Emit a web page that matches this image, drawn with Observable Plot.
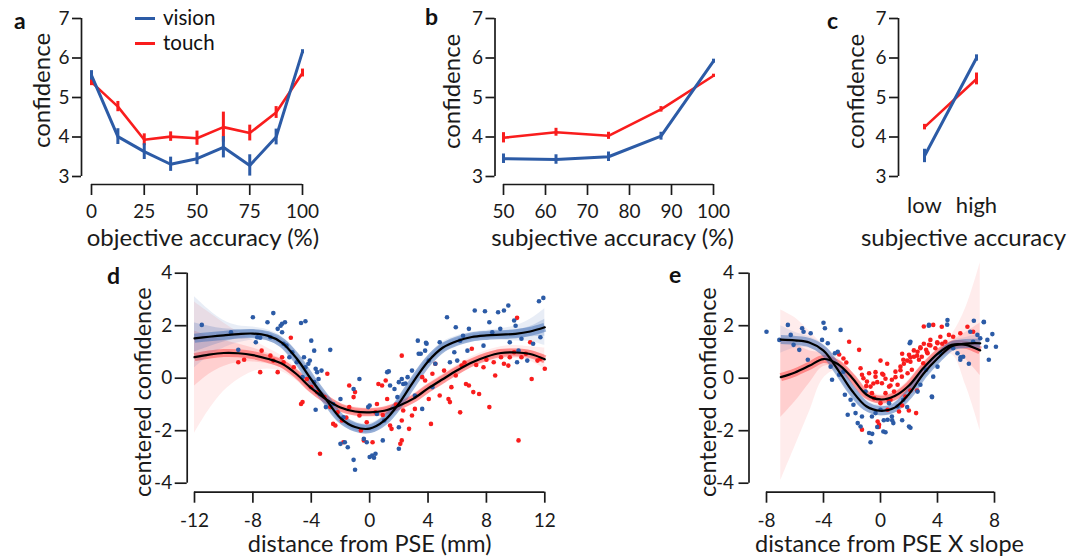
<!DOCTYPE html>
<html><head><meta charset="utf-8">
<script src="https://cdn.jsdelivr.net/npm/d3@7"></script>
<script src="https://cdn.jsdelivr.net/npm/@observablehq/plot@0.6"></script>
<style>
body{margin:0;background:#fff;}
#fig{position:relative;width:1075px;height:558px;font-family:Lato,sans-serif;overflow:hidden;background:#fff;color:#111}
.lab{position:absolute;font-weight:bold;font-size:23px;line-height:1}
.leg{position:absolute;font-size:20.5px;line-height:1}
.legline{position:absolute;height:3px;width:20px}
</style></head><body><div id="fig"></div>
<script>
// ---------- panel a ----------
const objAcc = [0, 12.5, 25, 37.5, 50, 62.5, 75, 87.5, 100];
const objAccTicks = [0, 25, 50, 75, 100];
const confTicks = [3, 4, 5, 6, 7];
const aVision = [5.56, 4.01, 3.63, 3.31, 3.45, 3.74, 3.28, 4.0, 6.16];
const aVisionErr = [0.12, 0.2, 0.2, 0.18, 0.15, 0.27, 0.27, 0.2, 0.05];
const aTouch = [5.39, 4.77, 3.93, 4.01, 3.97, 4.25, 4.1, 4.62, 5.62];
const aTouchErr = [0.09, 0.13, 0.15, 0.12, 0.18, 0.38, 0.2, 0.15, 0.1];
// ---------- panel b ----------
const subjAcc = [50, 62.5, 75, 87.5, 100];
const subjAccTicks = [50, 60, 70, 80, 90, 100];
const bVision = [3.45, 3.43, 3.5, 4.02, 5.92];
const bVisionErr = [0.12, 0.12, 0.12, 0.1, 0.05];
const bTouch = [3.98, 4.12, 4.03, 4.7, 5.55];
const bTouchErr = [0.13, 0.1, 0.09, 0.07, 0.04];
// ---------- panel c ----------
const subjLevels = ["low", "high"];
const cVision = [3.52, 6.0];
const cVisionErr = [0.17, 0.08];
const cTouch = [4.25, 5.47];
const cTouchErr = [0.07, 0.15];
// ---------- panel d ----------
const dXTicks = [-12, -8, -4, 0, 4, 8, 12];
const cconfTicks = [-4, -2, 0, 2, 4];
const dX =        [-12, -11, -10, -9, -8, -7, -6, -5, -4, -3, -2, -1, 0, 1, 2, 3, 4, 5, 6, 7, 8, 9, 10, 11, 12];
const dVisFit =   [1.52, 1.58, 1.63, 1.68, 1.70, 1.62, 1.35, 0.75, -0.05, -0.80, -1.52, -1.86, -1.92, -1.62, -0.97, -0.13, 0.64, 1.16, 1.42, 1.57, 1.63, 1.66, 1.69, 1.78, 1.94];
const dVisLo =    [0.4, 0.85, 1.15, 1.35, 1.45, 1.42, 1.15, 0.55, -0.25, -1.0, -1.72, -2.06, -2.12, -1.82, -1.2, -0.37, 0.45, 0.98, 1.25, 1.4, 1.45, 1.45, 1.42, 1.4, 1.25];
const dVisHi =    [3.1, 2.6, 2.2, 2.0, 1.95, 1.85, 1.58, 0.97, 0.16, -0.6, -1.3, -1.66, -1.72, -1.42, -0.78, 0.07, 0.85, 1.38, 1.62, 1.75, 1.82, 1.88, 2.0, 2.25, 2.65];
const dVisInLo =  [1.0, 1.2, 1.38, 1.5, 1.56, 1.5, 1.24, 0.64, -0.16, -0.92, -1.64, -1.99, -2.05, -1.75, -1.12, -0.28, 0.53, 1.06, 1.32, 1.46, 1.51, 1.53, 1.53, 1.58, 1.6];
const dVisInHi =  [2.1, 1.98, 1.88, 1.85, 1.84, 1.74, 1.47, 0.87, 0.07, -0.68, -1.4, -1.73, -1.8, -1.5, -0.84, -0.02, 0.77, 1.3, 1.53, 1.67, 1.74, 1.78, 1.84, 1.97, 2.25];
const dTouchFit = [0.80, 0.90, 0.96, 0.95, 0.88, 0.74, 0.55, 0.15, -0.38, -0.80, -1.12, -1.27, -1.30, -1.24, -1.05, -0.78, -0.39, -0.04, 0.30, 0.60, 0.82, 0.96, 0.98, 0.92, 0.72];
const dTouchLo =  [-2.1, -1.2, -0.5, -0.05, 0.25, 0.35, 0.25, -0.1, -0.6, -0.98, -1.3, -1.43, -1.46, -1.4, -1.22, -0.98, -0.6, -0.27, 0.08, 0.4, 0.6, 0.72, 0.75, 0.65, 0.35];
const dTouchHi =  [2.9, 2.5, 2.1, 1.75, 1.45, 1.15, 0.85, 0.4, -0.18, -0.62, -0.94, -1.1, -1.14, -1.08, -0.88, -0.6, -0.2, 0.15, 0.5, 0.82, 1.05, 1.2, 1.25, 1.2, 1.15];
const dTouchInLo =[-0.3, 0.15, 0.45, 0.6, 0.62, 0.55, 0.38, 0.0, -0.5, -0.9, -1.22, -1.37, -1.4, -1.34, -1.15, -0.88, -0.5, -0.15, 0.18, 0.48, 0.7, 0.83, 0.86, 0.8, 0.55];
const dTouchInHi =[1.8, 1.6, 1.45, 1.3, 1.15, 0.95, 0.72, 0.3, -0.26, -0.7, -1.02, -1.17, -1.2, -1.14, -0.95, -0.68, -0.28, 0.07, 0.42, 0.72, 0.95, 1.1, 1.12, 1.06, 0.9];
const dVisPts = [[-11.5,2.03],[-9.5,1.75],[-9.0,1.08],[-8.0,2.32],[-7.8,1.37],[-7.7,1.56],[-7.5,1.54],[-7.0,2.13],[-6.6,2.48],[-6.8,1.56],[-6.3,1.88],[-6.1,2.0],[-6.0,2.07],[-5.8,2.13],[-6.0,1.75],[-5.9,1.31],[-5.7,1.24],[-5.5,0.8],[-5.3,0.99],[-4.7,2.1],[-4.4,2.17],[-5.0,0.61],[-4.6,0.04],[-4.5,0.8],[-4.4,0.42],[-4.2,0.55],[-4.1,0.67],[-4.0,1.43],[-3.8,1.05],[-3.7,0.36],[-3.6,0.23],[-3.8,-0.15],[-3.5,-0.03],[-3.3,0.29],[-2.7,1.08],[-3.4,-0.6],[-3.7,-1.2],[-3.0,-1.1],[-2.5,-0.98],[-2.0,-0.79],[-1.8,-1.49],[-2.0,-2.5],[-1.7,-2.44],[-1.5,-2.63],[-1.1,-3.11],[-1.0,-3.49],[-1.1,-0.41],[-0.7,-0.03],[-0.4,-2.31],[-0.2,-2.44],[0.0,-3.0],[0.3,-3.03],[0.4,-2.88],[-0.1,-1.1],[0.0,-1.04],[0.5,-1.36],[1.0,-1.61],[0.9,-2.37],[1.2,0.23],[1.4,-0.28],[1.7,-0.41],[1.9,-0.72],[2.0,-2.69],[2.0,-1.87],[2.2,-0.03],[2.3,-0.22],[2.6,0.04],[2.9,0.29],[3.1,-0.66],[3.3,1.43],[3.5,0.93],[3.6,-1.17],[3.8,1.05],[3.9,1.31],[4.05,0.67],[4.3,-0.34],[4.5,0.55],[4.8,1.37],[5.3,2.32],[5.5,0.61],[5.8,0.99],[5.9,1.94],[6.0,0.67],[6.2,1.43],[6.4,1.62],[6.7,1.05],[6.8,1.88],[7.2,2.58],[7.8,1.24],[7.9,2.55],[8.2,2.13],[8.4,1.75],[8.8,2.51],[9.2,2.58],[9.5,2.77],[8.95,1.88],[9.6,1.37],[9.9,2.2],[10.0,2.0],[10.1,0.61],[10.2,1.05],[10.4,1.5],[10.8,0.67],[11.2,1.31],[11.6,2.93],[11.9,3.06],[11.7,1.56],[1.31,0.26],[2.0,-0.15],[2.45,-0.2],[3.36,0.93],[3.86,1.35],[0.17,-2.95]];
const dTouchPts = [[-9.0,0.61],[-8.6,0.7],[-7.5,0.23],[-7.4,1.05],[-6.8,0.86],[-6.6,0.67],[-6.3,0.23],[-6.0,0.8],[-5.9,0.61],[-5.4,1.54],[-5.2,0.42],[-4.7,-0.98],[-4.6,-0.91],[-4.3,-0.03],[-4.0,-0.34],[-3.6,-0.53],[-3.4,-2.88],[-3.1,-0.72],[-2.9,0.17],[-2.7,-1.1],[-2.5,-1.74],[-2.35,-1.8],[-1.9,-1.61],[-1.8,-2.44],[-1.4,-0.28],[-1.4,-1.1],[-1.1,-0.72],[-1.0,-0.53],[-0.7,-1.42],[-0.6,-1.99],[-0.4,-2.37],[-0.2,-1.68],[0.2,-2.44],[0.4,-1.3],[0.5,-0.98],[0.6,-0.22],[0.85,-0.28],[1.1,-0.09],[1.2,-0.79],[1.4,-1.8],[1.5,-1.93],[2.1,-2.5],[2.2,-2.37],[2.2,-1.61],[2.2,0.86],[2.3,-1.23],[2.7,-1.93],[2.9,-1.42],[3.1,-1.17],[3.6,0.04],[3.8,-0.09],[4.05,-0.79],[4.2,-1.74],[4.3,0.17],[4.5,0.55],[4.8,-0.66],[5.1,0.29],[5.4,-0.79],[5.5,-0.91],[5.6,-0.34],[5.9,0.1],[6.2,-1.3],[6.3,0.48],[6.6,-0.22],[6.8,-0.28],[7.0,1.12],[7.1,-0.53],[7.5,-0.6],[7.8,0.42],[8.2,-1.1],[8.5,0.61],[8.6,0.1],[9.0,0.8],[9.2,0.55],[9.5,0.48],[9.6,0.8],[9.9,0.99],[10.1,2.3],[10.2,-2.37],[10.4,0.8],[10.7,0.93],[11.0,1.37],[11.1,-0.03],[11.5,0.67],[11.7,0.74],[12.0,0.36],[-2.2,-1.3],[-1.6,-1.5],[0.9,-1.4],[1.8,-1.0],[6.5,0.6],[7.3,0.5],[8.0,0.7]];
// ---------- panel e ----------
const eXTicks = [-8, -4, 0, 4, 8];
const eX =         [-7, -6, -5, -4, -3, -2, -1, 0, 1, 2, 3, 4, 5, 6, 7];
const eVisFit =    [1.47, 1.44, 1.36, 1.05, 0.33, -0.48, -1.07, -1.24, -1.12, -0.6, 0.16, 0.75, 1.22, 1.32, 1.33];
const eVisLo =     [0.95, 1.15, 1.15, 0.82, 0.1, -0.7, -1.28, -1.45, -1.33, -0.82, -0.07, 0.55, 1.02, 1.12, 1.05];
const eVisHi =     [2.0, 1.75, 1.58, 1.28, 0.55, -0.26, -0.86, -1.03, -0.91, -0.38, 0.38, 0.95, 1.42, 1.55, 1.7];
const eTouchFit =  [0.04, 0.22, 0.47, 0.73, 0.54, 0.02, -0.62, -0.81, -0.68, -0.28, 0.38, 0.93, 1.27, 1.27, 1.06];
const eTouchLo =   [-3.9, -2.6, -1.3, 0.0, 0.3, -0.2, -0.82, -1.0, -0.88, -0.5, 0.15, 0.75, 0.9, -0.3, -2.0];
const eTouchHi =   [2.6, 2.3, 1.8, 1.25, 0.8, 0.25, -0.42, -0.62, -0.48, -0.06, 0.6, 1.1, 1.65, 2.7, 4.4];
const eTouchInLo = [-1.5, -0.9, -0.2, 0.45, 0.4, -0.1, -0.75, -0.93, -0.8, -0.4, 0.25, 0.82, 1.1, 0.7, 0.1];
const eTouchInHi = [1.5, 1.3, 1.05, 0.95, 0.7, 0.15, -0.5, -0.7, -0.56, -0.15, 0.5, 1.03, 1.42, 1.75, 2.1];
const eVisPts = [[-8.0,1.77],[-7.1,1.46],[-6.5,2.03],[-6.3,1.65],[-6.1,1.27],[-5.7,1.08],[-5.5,1.9],[-5.4,1.77],[-4.9,1.71],[-5.1,0.7],[-4.1,1.46],[-4.0,2.11],[-3.9,1.9],[-3.7,1.33],[-3.5,0.44],[-3.4,-0.06],[-3.2,0.95],[-3.0,1.01],[-2.9,0.13],[-2.8,1.84],[-2.6,0.25],[-2.5,-0.63],[-2.3,-1.39],[-2.1,-0.82],[-1.9,-1.01],[-1.75,-1.33],[-1.6,-1.71],[-1.4,-1.84],[-1.3,-1.46],[-1.05,-0.51],[-0.8,-2.09],[-0.7,-2.44],[-0.6,-1.46],[-0.35,-1.33],[0.0,-1.2],[0.2,-2.03],[0.35,-2.06],[0.5,-1.58],[0.6,-0.95],[0.8,-1.46],[0.9,-1.71],[1.2,-1.08],[1.6,-0.82],[2.0,-1.84],[2.1,1.39],[2.6,-0.51],[2.8,-0.25],[3.2,0.32],[3.4,2.03],[3.6,-0.7],[3.7,0.06],[4.0,0.44],[4.2,0.95],[4.7,2.22],[5.1,1.14],[5.4,0.95],[5.6,0.7],[5.8,0.82],[6.3,1.77],[6.5,1.39],[6.8,1.65],[7.0,1.52],[7.25,2.15],[7.5,1.46],[7.6,0.7],[7.85,1.68],[8.1,1.2],[7.4,1.2],[2.05,1.33],[3.39,2.0],[4.68,2.04],[7.25,2.13],[3.62,-0.72],[2.1,-1.89],[1.87,-1.1],[1.52,-1.6],[0.82,-1.6],[0.23,-1.6],[-0.23,-1.86],[-0.58,-2.12],[5.62,0.8],[6.2,0.55],[6.55,2.19]];
const eTouchPts = [[-2.2,1.39],[-1.5,1.08],[-1.4,0.38],[-1.3,0.13],[-1.2,0.0],[-0.95,-0.13],[-0.8,0.19],[-0.7,-0.32],[-0.6,-0.57],[-0.45,-0.76],[-0.35,0.06],[-0.2,-1.65],[-0.1,-1.77],[0.0,-0.95],[0.1,-0.19],[0.2,0.13],[0.35,-0.57],[0.5,-1.2],[0.6,-0.32],[0.7,-0.82],[0.8,-0.06],[0.95,-0.51],[1.05,0.25],[1.2,-0.25],[1.3,-1.27],[1.4,0.44],[1.5,0.06],[1.6,0.7],[1.75,-0.7],[1.9,0.19],[2.0,0.89],[2.1,0.63],[2.2,0.32],[2.35,0.82],[2.5,-1.33],[2.6,1.01],[2.7,0.7],[2.8,1.14],[2.9,0.82],[3.0,0.57],[3.2,1.08],[3.3,0.95],[3.4,1.27],[3.5,1.46],[3.7,2.03],[3.85,1.14],[4.0,1.33],[4.2,1.58],[4.3,1.96],[4.55,1.39],[4.8,1.65],[5.1,1.58],[5.6,1.71],[6.1,1.96],[6.5,1.77],[-2.9,0.9],[-2.6,0.75],[-2.4,0.6],[-1.0,-0.3],[-0.5,-0.2],[-1.3,-1.96],[-0.23,-0.15],[0.12,0.17],[0.35,-0.02],[0.7,-0.28],[1.05,0.04],[1.4,0.3],[1.64,0.55],[1.87,0.67],[2.1,0.8],[1.52,0.93],[2.34,1.06],[2.57,0.86],[2.8,1.18],[3.04,1.31],[3.27,0.99],[3.5,1.25],[3.98,1.37],[4.33,1.31],[3.04,1.97],[0.47,0.55],[0.0,0.67],[-0.35,0.23],[2.1,-0.47],[2.57,-0.47],[1.99,-1.23],[1.52,-1.04],[0.58,-0.85],[-0.12,-1.86]];

// ---------- drawing ----------
const BLUE = "#2c5ba6", RED = "#f91d1d", BAND_BLUE = "#3f6db5", BAND_RED = "#ff3030";
const FONT = "Lato, sans-serif";
const AX = "#1a1a1a";
const fig = document.getElementById("fig");
const fmt = d => String(d);
const last = a => a[a.length - 1];
const rows = (xs, ys, es) => xs.map((x, i) => ({x, y: ys[i], lo: ys[i] - es[i], hi: ys[i] + es[i]}));
const style = {fontFamily: FONT, fontSize: "19px", background: "transparent", overflow: "visible", color: AX};
function place(svg, left, top) {
  svg.style.position = "absolute"; svg.style.left = left + "px"; svg.style.top = top + "px";
  svg.style.maxWidth = "none";
  fig.appendChild(svg);
}
function seriesMarks(vis, touch) {
  return [
    Plot.line(touch, {x: "x", y: "y", stroke: RED, strokeWidth: 2.6}),
    Plot.ruleX(touch, {x: "x", y1: "lo", y2: "hi", stroke: RED, strokeWidth: 3}),
    Plot.line(vis, {x: "x", y: "y", stroke: BLUE, strokeWidth: 3}),
    Plot.ruleX(vis, {x: "x", y1: "lo", y2: "hi", stroke: BLUE, strokeWidth: 3})
  ];
}
function yAxisMarks(xMin, ticks, dx, tickSize, tickPadding = 3) {
  return [
    Plot.ruleX([xMin], {x: d => d, y1: () => ticks[0], y2: () => last(ticks), dx, stroke: AX, strokeWidth: 1.7}),
    Plot.axisY(ticks, {anchor: "left", dx, tickSize, tickPadding, tickFormat: fmt, label: null, strokeWidth: 1.7})
  ];
}
function xAxisMarks(yMin, ticks, dy, tickSize, tickPadding) {
  return [
    Plot.ruleY([yMin], {y: d => d, x1: () => ticks[0], x2: () => last(ticks), dy, stroke: AX, strokeWidth: 1.7}),
    Plot.axisX(ticks, {anchor: "bottom", dy, tickSize, tickPadding, tickFormat: fmt, label: null, strokeWidth: 1.7})
  ];
}
const xLabel = (t, dx, dy, fs = 24) => Plot.text([t], {text: d => d, fontSize: fs, fill: AX, frameAnchor: "bottom", textAnchor: "middle", lineAnchor: "middle", dx, dy});
const yLabel = (t, dx, dy, fs = 24) => Plot.text([t], {text: d => d, fontSize: fs, fill: AX, frameAnchor: "left", rotate: -90, textAnchor: "middle", lineAnchor: "middle", dx, dy});

// panel a
place(Plot.plot({
  width: 330, height: 250, marginLeft: 91, marginRight: 28, marginTop: 18, marginBottom: 74,
  x: {domain: [objAccTicks[0], last(objAccTicks)]}, y: {domain: [confTicks[0], last(confTicks)]},
  style,
  marks: [
    ...yAxisMarks(objAccTicks[0], confTicks, -10, 9),
    ...xAxisMarks(confTicks[0], objAccTicks, 8, 11, 9),
    ...seriesMarks(rows(objAcc, aVision, aVisionErr), rows(objAcc, aTouch, aTouchErr)),
    xLabel("objective accuracy (%)", 6, 62),
    yLabel("confidence", -49, -7)
  ]
}), 0, 0);

// panel b
place(Plot.plot({
  width: 330, height: 250, marginLeft: 83, marginRight: 37, marginTop: 18, marginBottom: 74,
  x: {domain: [subjAccTicks[0], last(subjAccTicks)]}, y: {domain: [confTicks[0], last(confTicks)]},
  style,
  marks: [
    ...yAxisMarks(subjAccTicks[0], confTicks, -8.5, 9),
    ...xAxisMarks(confTicks[0], subjAccTicks, 8, 11, 9),
    ...seriesMarks(rows(subjAcc, bVision, bVisionErr), rows(subjAcc, bTouch, bTouchErr)),
    xLabel("subjective accuracy (%)", 4, 62),
    yLabel("confidence", -51, -6)
  ]
}), 420, 0);

// panel c
place(Plot.plot({
  width: 235, height: 250, marginLeft: 84, marginRight: 99, marginTop: 18, marginBottom: 74,
  x: {type: "point", domain: subjLevels, padding: 0}, y: {domain: [confTicks[0], last(confTicks)]},
  style,
  marks: [
    Plot.ruleX([subjLevels[0]], {x: d => d, y1: () => confTicks[0], y2: () => last(confTicks), dx: -26, stroke: AX, strokeWidth: 1.7}),
    Plot.axisY(confTicks, {anchor: "left", dx: -26, tickSize: 9, tickPadding: 3, tickFormat: fmt, label: null, strokeWidth: 1.7}),
    Plot.axisX(subjLevels, {anchor: "bottom", tickSize: 0, tickPadding: 21, label: null, fontSize: 22}),
    ...seriesMarks(rows(subjLevels, cVision, cVisionErr), rows(subjLevels, cTouch, cTouchErr)),
    xLabel("subjective accuracy", 13, 62),
    yLabel("confidence", -68, -6)
  ]
}), 840, 0);

// fit panels
function fitPanel(o) {
  const fit = o.xs.map((x, i) => ({x, v: o.vFit[i], vLo: o.vLo[i], vHi: o.vHi[i], vInLo: o.vInLo ? o.vInLo[i] : null, vInHi: o.vInHi ? o.vInHi[i] : null,
    t: o.tFit[i], tLo: o.tLo[i], tHi: o.tHi[i], tInLo: o.tInLo[i], tInHi: o.tInHi[i]}));
  const curve = "catmull-rom";
  const marks = [
    ...yAxisMarks(o.xTicks[0], cconfTicks, o.axisDx, o.tickSize, o.tickPadding),
    ...xAxisMarks(cconfTicks[0], o.xTicks, 9, 11, 10),
    Plot.areaY(fit, {x: "x", y1: "tLo", y2: "tHi", fill: BAND_RED, fillOpacity: 0.09, curve}),
    Plot.areaY(fit, {x: "x", y1: "tInLo", y2: "tInHi", fill: BAND_RED, fillOpacity: 0.15, curve}),
    Plot.line(fit, {x: "x", y: "t", stroke: BAND_RED, strokeWidth: 8, strokeOpacity: 0.45, strokeLinecap: "butt", curve}),
    Plot.areaY(fit, {x: "x", y1: "vLo", y2: "vHi", fill: BAND_BLUE, fillOpacity: 0.12, curve})
  ];
  if (o.vInLo) marks.push(Plot.areaY(fit, {x: "x", y1: "vInLo", y2: "vInHi", fill: BAND_BLUE, fillOpacity: 0.22, curve}));
  marks.push(
    Plot.line(fit, {x: "x", y: "v", stroke: BAND_BLUE, strokeWidth: 9, strokeOpacity: 0.5, strokeLinecap: "butt", curve}),
    Plot.dot(o.tPts, {x: d => d[0], y: d => d[1], r: 2.3, fill: RED, stroke: null}),
    Plot.dot(o.vPts, {x: d => d[0], y: d => d[1], r: 2.3, fill: BLUE, stroke: null}),
    Plot.line(fit, {x: "x", y: "t", stroke: "#000", strokeWidth: 2.2, curve}),
    Plot.line(fit, {x: "x", y: "v", stroke: "#000", strokeWidth: 2.2, curve}),
    xLabel(o.xLabel, o.xLabelDx, 61, 23.5),
    yLabel("centered confidence", o.yLabelDx, 14, 23.5)
  );
  return Plot.plot({
    width: o.width, height: 303, marginLeft: o.ml, marginRight: o.mr, marginTop: 17.7, marginBottom: 75.3,
    x: {domain: [o.xTicks[0], last(o.xTicks)]}, y: {domain: [cconfTicks[0], last(cconfTicks)]},
    style, marks
  });
}
place(fitPanel({width: 560, ml: 194, mr: 15.7, axisDx: -7.3, tickSize: 12, tickPadding: 3, xTicks: dXTicks, xs: dX,
  vFit: dVisFit, vLo: dVisLo, vHi: dVisHi, vInLo: dVisInLo, vInHi: dVisInHi,
  tFit: dTouchFit, tLo: dTouchLo, tHi: dTouchHi, tInLo: dTouchInLo, tInHi: dTouchInHi,
  vPts: dVisPts, tPts: dTouchPts, xLabel: "distance from PSE (mm)", xLabelDx: 0, yLabelDx: -51}), 0, 255);
place(fitPanel({width: 375, ml: 66, mr: 81, axisDx: -17.5, tickSize: 10, tickPadding: 5, xTicks: eXTicks, xs: eX,
  vFit: eVisFit, vLo: eVisLo, vHi: eVisHi,
  tFit: eTouchFit, tLo: eTouchLo, tHi: eTouchHi, tInLo: eTouchInLo, tInHi: eTouchInHi,
  vPts: eVisPts, tPts: eTouchPts, xLabel: "distance from PSE X slope", xLabelDx: 9, yLabelDx: -58}), 700, 255);

// panel letters and legend
const html = (cls, txt, left, top, extra = "") => {
  const el = document.createElement("div"); el.className = cls; el.textContent = txt;
  el.style.cssText += `left:${left}px;top:${top}px;${extra}`; fig.appendChild(el); return el;
};
html("lab", "a", 14, 9); html("lab", "b", 425, 5); html("lab", "c", 827, 9);
html("lab", "d", 107, 264); html("lab", "e", 669, 263);
html("legline", "", 135, 16.5, `background:${BLUE}`);
html("legline", "", 135, 41.5, `background:${RED}`);
html("leg", "vision", 163, 7); html("leg", "touch", 163, 32);
</script></body></html>
